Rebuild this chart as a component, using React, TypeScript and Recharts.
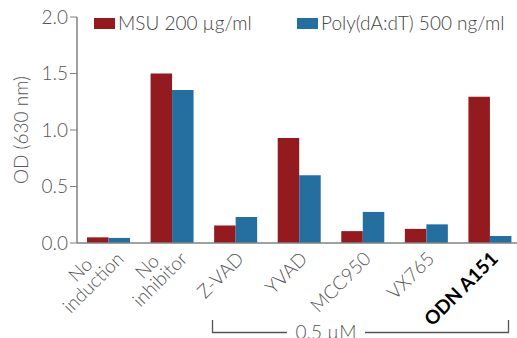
import { BarChart, Bar, XAxis, YAxis } from "recharts";

const categories = ["No\ninduction", "No\ninhibitor", "Z-VAD", "YVAD", "MCC950", "VX765", "ODN A151"];
const msuValues = [0.05, 1.5, 0.155, 0.93, 0.105, 0.125, 1.295];
const polyValues = [0.045, 1.355, 0.23, 0.6, 0.275, 0.165, 0.062];
const yTicks = [0, 0.5, 1.0, 1.5, 2.0];

const RED = "#931a1e";
const BLUE = "#246f9f";
const FONT = "Lato, 'Open Sans', sans-serif";

const data = categories.map((name, i) => ({ name, msu: msuValues[i], poly: polyValues[i] }));

let ctx: CanvasRenderingContext2D | null = null;
function textWidth(s: string, font: string) {
  if (!ctx) ctx = document.createElement("canvas").getContext("2d");
  if (!ctx) return s.length * 9;
  ctx.font = font;
  return ctx.measureText(s).width;
}

// rotated category labels; two-line labels have their lines centred on each other
function CategoryTick({ x, y, payload }: any) {
  const label = String(payload.value);
  const lines = label.split("\n");
  const bold = label === "ODN A151";
  const font = `${bold ? 700 : 300} 19px Lato`;
  const maxW = Math.max(...lines.map((l) => textWidth(l, font)));
  const multi = lines.length > 1;
  const lh = 18;
  return (
    <g transform={`translate(${x + 9},${y + 9}) rotate(-45)`}>
      {lines.map((l, i) => (
        <text
          key={i}
          x={multi ? -maxW / 2 + 5 : 0}
          y={(i - (lines.length - 1)) * lh + (multi ? 5 : 0)}
          textAnchor={multi ? "middle" : "end"}
          fontFamily={FONT}
          fontSize={19}
          fontWeight={bold ? 700 : 300}
          fill={bold ? "#000" : "#555"}
        >
          {l}
        </text>
      ))}
    </g>
  );
}

function LegendItem({ color, label, left }: { color: string; label: string; left: number }) {
  return (
    <div style={{ position: "absolute", left, top: 12, display: "flex", alignItems: "center" }}>
      <div style={{ width: 21, height: 11, background: color, marginRight: 3 }} />
      <span style={{ fontFamily: FONT, fontWeight: 300, fontSize: 19, color: "#444", lineHeight: "22px" }}>
        {label}
      </span>
    </div>
  );
}

export default function App() {
  return (
    <div style={{ position: "absolute", left: 0, top: 0, width: 517, height: 338, overflow: "hidden", background: "#fff" }}>
      <BarChart
        width={522}
        height={338}
        data={data}
        margin={{ top: 17, right: 0, bottom: 0, left: 0 }}
        barGap={0}
        barCategoryGap={10}
      >
        <XAxis
          dataKey="name"
          interval={0}
          height={95}
          tickLine={false}
          axisLine={{ stroke: "#808080", strokeWidth: 1.5 }}
          tick={<CategoryTick />}
        />
        <YAxis
          width={77}
          domain={[0, 2]}
          ticks={yTicks}
          tickFormatter={(v) => Number(v).toFixed(1)}
          axisLine={{ stroke: "#808080", strokeWidth: 1.5 }}
          tickLine={{ stroke: "#808080" }}
          tickSize={7}
          tick={{ fontFamily: FONT, fontWeight: 300, fontSize: 19, fill: "#555" }}
          label={{
            value: "OD (630 nm)",
            angle: -90,
            position: "insideLeft",
            offset: 21,
            style: { fontFamily: FONT, fontWeight: 300, fontSize: 19, fill: "#555", textAnchor: "middle" },
          }}
        />
        <Bar dataKey="msu" fill={RED} barSize={21.5} isAnimationActive={false} />
        <Bar dataKey="poly" fill={BLUE} barSize={21.5} isAnimationActive={false} />
      </BarChart>
      <LegendItem color={RED} label="MSU 200 µg/ml" left={94} />
      <LegendItem color={BLUE} label="Poly(dA:dT) 500 ng/ml" left={297} />
      <svg style={{ position: "absolute", left: 0, top: 0 }} width={517} height={338}>
        <path d="M212.5,320 V332.5 H287 M365,332.5 H508.5 V320" fill="none" stroke="#555" strokeWidth={1.3} />
        <text x={326} y={339} textAnchor="middle" fontFamily={FONT} fontWeight={300} fontSize={19} fill="#555">
          0.5 µM
        </text>
      </svg>
    </div>
  );
}
